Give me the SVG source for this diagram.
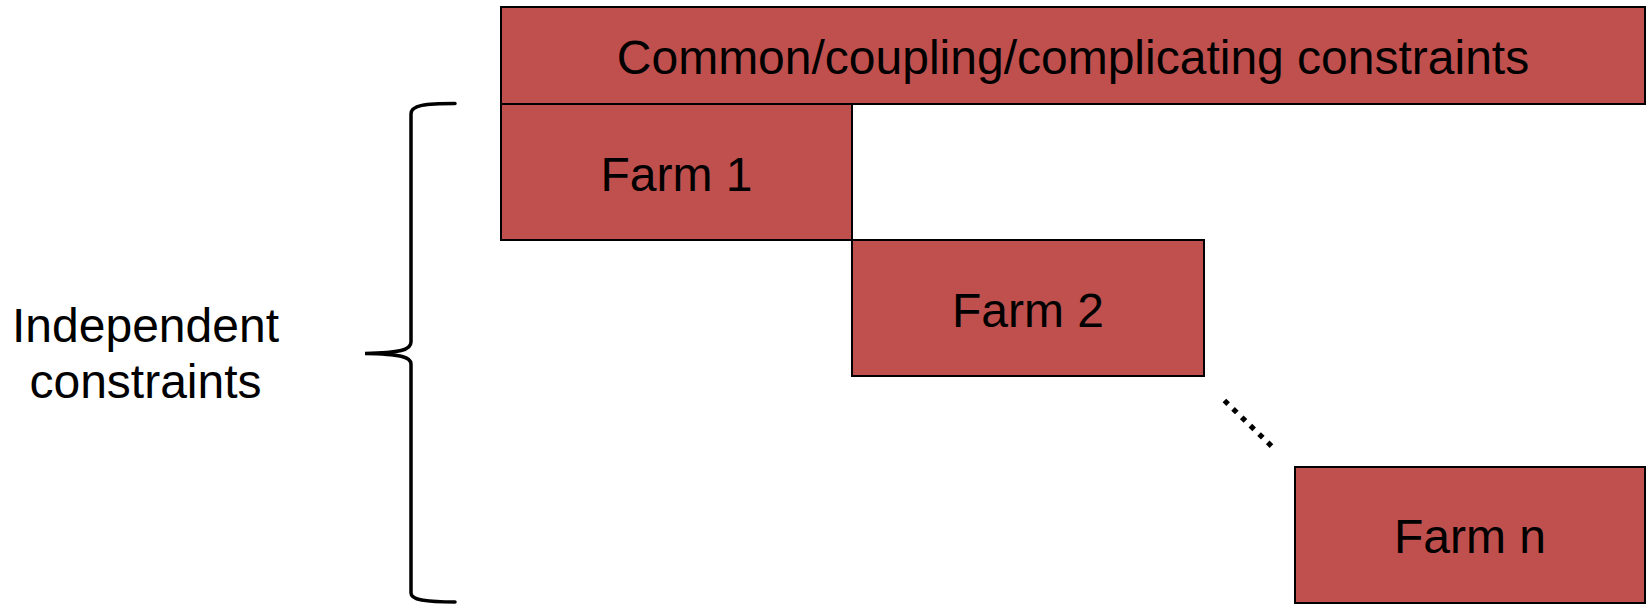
<svg xmlns="http://www.w3.org/2000/svg" width="1646" height="604" viewBox="0 0 1646 604">
  <style>
    .box { fill: #C0504D; stroke: #000000; stroke-width: 2; }
    .label { font-family: "Liberation Sans", Arial, sans-serif; font-size: 48px; fill: #000000; text-anchor: middle; }
    .brace { fill: none; stroke: #000000; stroke-width: 3.5; stroke-linecap: round; }
    .dots { fill: none; stroke: #000000; stroke-width: 5.2; stroke-linecap: butt; stroke-dasharray: 5.2 6.86; }
  </style>
  <rect width="1646" height="604" fill="#FFFFFF"/>

  <g id="common">
    <rect class="box" x="501" y="7" width="1144" height="97"/>
    <text class="label" x="1073" y="74">Common/coupling/complicating constraints</text>
  </g>

  <g id="farm1">
    <rect class="box" x="501" y="104" width="351" height="136"/>
    <text class="label" x="676.5" y="190.5">Farm 1</text>
  </g>

  <g id="farm2">
    <rect class="box" x="852" y="240" width="352" height="136"/>
    <text class="label" x="1028" y="326.5">Farm 2</text>
  </g>

  <g id="farmn">
    <rect class="box" x="1295" y="467" width="350" height="136"/>
    <text class="label" x="1470" y="552.5">Farm n</text>
  </g>

  <g id="independent">
    <text class="label" x="145.5" y="341.5">Independent</text>
    <text class="label" x="145.5" y="397.5">constraints</text>
  </g>

  <g id="connectors">
    <!-- curly brace grouping the farm rows -->
    <path class="brace" d="M455,103.5 C425,103.5 411,105 411,114 L411,342 C411,350 400,353 365,353.5 C400,354 411,357 411,364 L411,593 C411,600 425,602 455,602"/>
    <!-- ellipsis between farm 2 and farm n: square dashes on a 45° line read as diamonds -->
    <path class="dots" d="M1224.4,400.5 L1271.5,446.1"/>
  </g>
</svg>
